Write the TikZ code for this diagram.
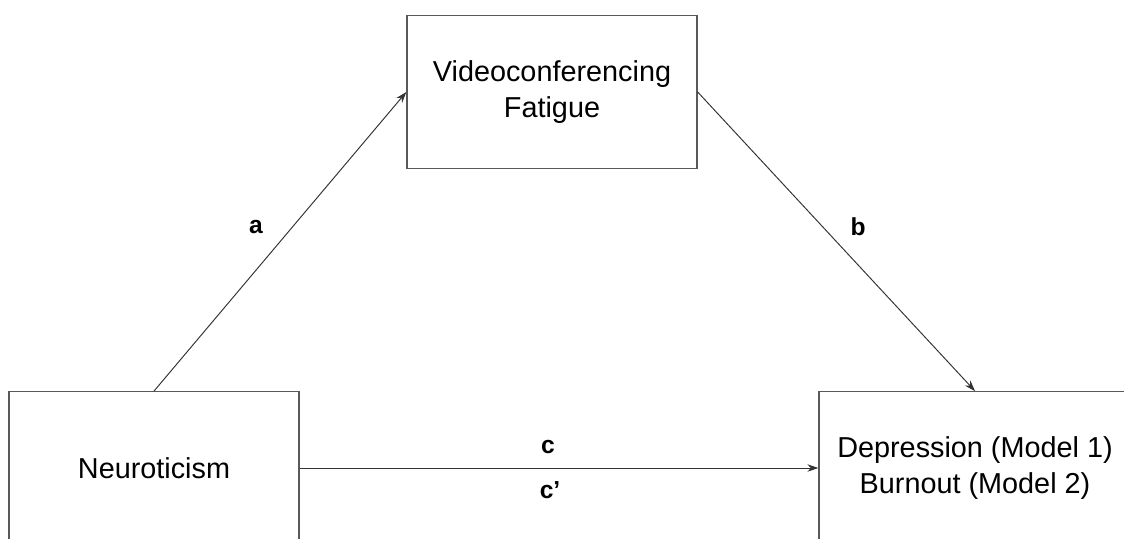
\documentclass[tikz,border=0pt]{standalone}
\usepackage{fontspec}
\setmainfont{Liberation Sans}
\usetikzlibrary{arrows.meta}

\begin{document}
\begin{tikzpicture}[x=0.02cm, y=-0.02cm, every node/.style={font=\fontsize{16.4}{20}\selectfont}]

		% Fix the page to the size of the reference
		\useasboundingbox (0,0) rectangle (1124,538);

		% Styles for the variable boxes, the paths and the path labels
		\tikzset{
			varbox/.style={draw=black!65, line width=0.8pt, align=center, minimum height=3.05cm, inner sep=0pt},
			path arrow/.style={draw=black!80, line width=0.55pt, -{Stealth[length=2.2mm, width=1.5mm]}},
			path label/.style={font=\fontsize{14}{16}\selectfont\bfseries}
		};

		% Mediator (top)
		\node[varbox, minimum width=5.8cm] (fatigue) at (552,92) {Videoconferencing\\Fatigue};

		% Predictor (bottom left)
		\node[varbox, minimum width=5.8cm] (neuro) at (154,468) {Neuroticism};

		% Outcome (bottom right)
		\node[varbox, minimum width=6.24cm] (outcome) at (975,468) {Depression (Model 1)\\Burnout (Model 2)};

		% Path a: predictor to mediator
		\draw[path arrow] (neuro.north) -- (fatigue.west);
		\node[path label] (lbla) at (256,227) {a};

		% Path b: mediator to outcome
		\draw[path arrow] (fatigue.east) -- (outcome.north);
		\node[path label] (lblb) at (858,227) {b};

		% Paths c and c': predictor to outcome
		\draw[path arrow] (neuro.east) -- (outcome.west);
		\node[path label] (lblc) at (548,447) {c};
		\node[path label] (lblcp) at (550,490) {c’};
	\end{tikzpicture}
\end{document}
